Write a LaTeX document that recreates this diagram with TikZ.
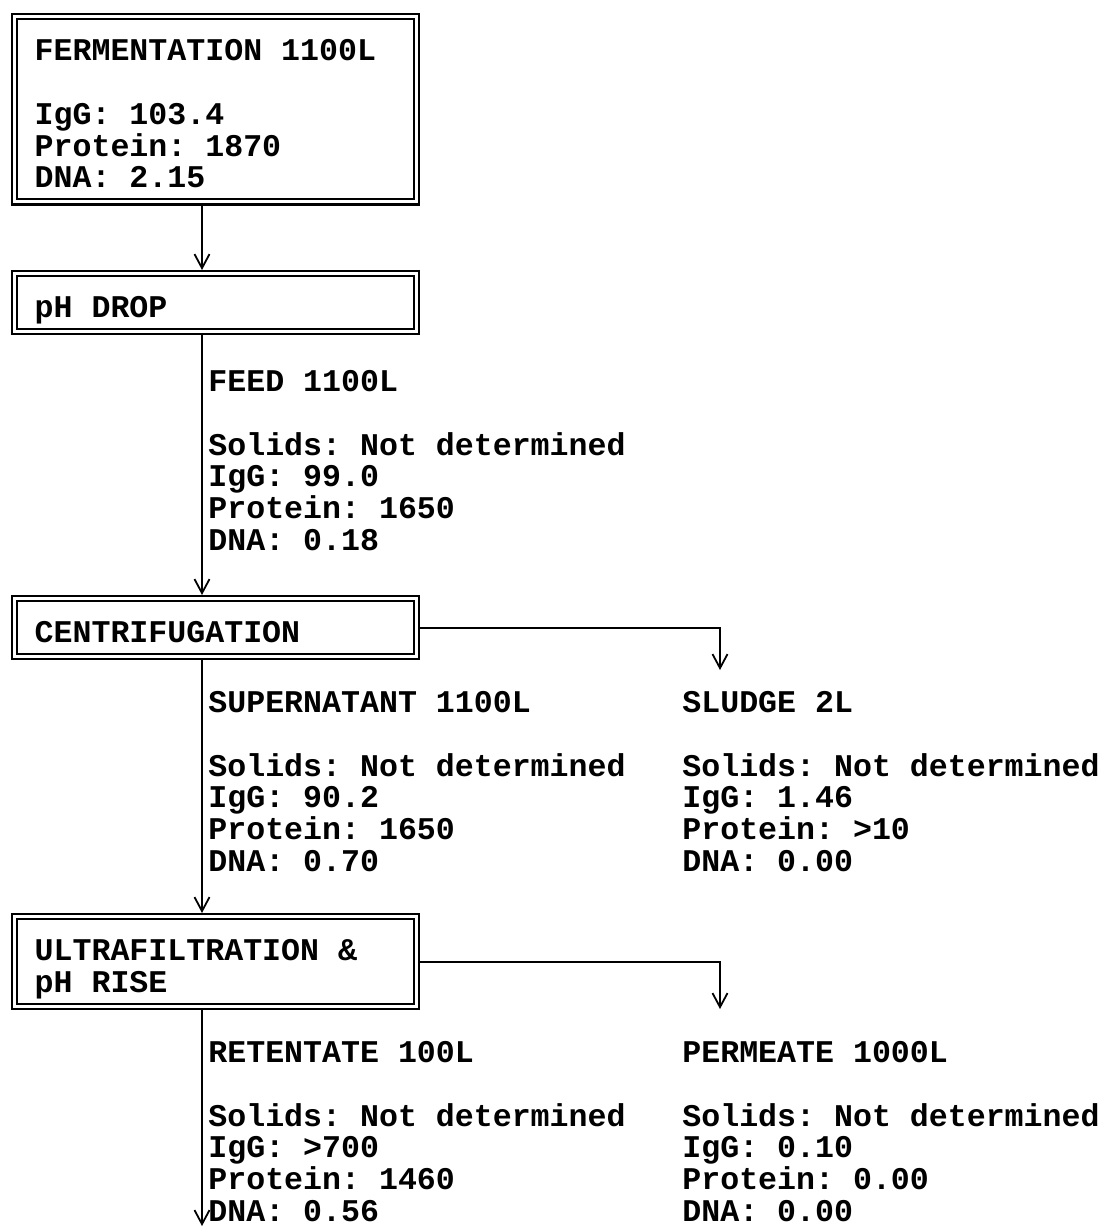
\documentclass[tikz,border=0pt]{standalone}
\usepackage{fontspec}
\usepackage{tikz}
\usetikzlibrary{positioning,arrows.meta}
\newfontfamily\flowmono{Liberation Mono}
\newcommand{\flowfont}{\flowmono\bfseries\fontsize{15.8}{15.9}\selectfont\frenchspacing}
\tikzset{
  stagebox/.style={draw, double, double distance=1.5pt, line width=1.1pt, outer sep=1.85pt,
    inner xsep=10pt, inner ysep=3pt, text width=181pt, align=flush left, anchor=north west, font=\flowfont,
    execute at begin node={\spaceskip=0pt\xspaceskip=0pt\rule{0pt}{19pt}}, execute at end node={\rule[-4pt]{0pt}{4pt}}},
  streamtext/.style={inner sep=0pt, anchor=north west, text width=230pt, align=flush left, font=\flowfont,
    execute at begin node={\spaceskip=0pt\xspaceskip=0pt\rule{0pt}{19pt}}},
  flow/.style={-{Straight Barb[length=7pt,width=7.5pt]}, line width=0.9pt}
}

\begin{document}
\begin{tikzpicture}[x=0.5pt, y=-0.5pt]
    \useasboundingbox (0,0) rectangle (1111,1227);

    % Process stages
    \node[stagebox] (ferment) at (11,13) {FERMENTATION 1100L\\[15.9pt]IgG: 103.4\\Protein: 1870\\DNA: 2.15};
    \node[stagebox] (phdrop) at (11,270) {pH DROP};
    \node[stagebox] (centrifuge) at (11,595) {CENTRIFUGATION};
    \node[stagebox] (ultra) at (11,913) {ULTRAFILTRATION \&\\pH RISE};

    % Streams
    \node[streamtext] (feed) at (208,353) {FEED 1100L\\[15.9pt]Solids: Not determined\\IgG: 99.0\\Protein: 1650\\DNA: 0.18};
    \node[streamtext] (supernatant) at (208,674) {SUPERNATANT 1100L\\[15.9pt]Solids: Not determined\\IgG: 90.2\\Protein: 1650\\DNA: 0.70};
    \node[streamtext] (sludge) at (682,674) {SLUDGE 2L\\[15.9pt]Solids: Not determined\\IgG: 1.46\\Protein: >10\\DNA: 0.00};
    \node[streamtext] (retentate) at (208,1024) {RETENTATE 100L\\[15.9pt]Solids: Not determined\\IgG: >700\\Protein: 1460\\DNA: 0.56};
    \node[streamtext] (permeate) at (682,1024) {PERMEATE 1000L\\[15.9pt]Solids: Not determined\\IgG: 0.10\\Protein: 0.00\\DNA: 0.00};

    % Arrow ends
    \coordinate (spine) at (202,0);
    \coordinate (sludgein) at (720,670);
    \coordinate (permin) at (720,1009);
    \coordinate (retout) at (202,1226);

    % Connectors
    \draw[flow] (ferment.south -| spine) -- (phdrop.north -| spine);
    \draw[flow] (phdrop.south -| spine) -- (centrifuge.north -| spine);
    \draw[flow] (centrifuge.south -| spine) -- (ultra.north -| spine);
    \draw[flow] (ultra.south -| spine) -- (retout);
    \draw[flow] (centrifuge.east) -| (sludgein);
    \draw[flow] (ultra.east) -| (permin);
\end{tikzpicture}
\end{document}
